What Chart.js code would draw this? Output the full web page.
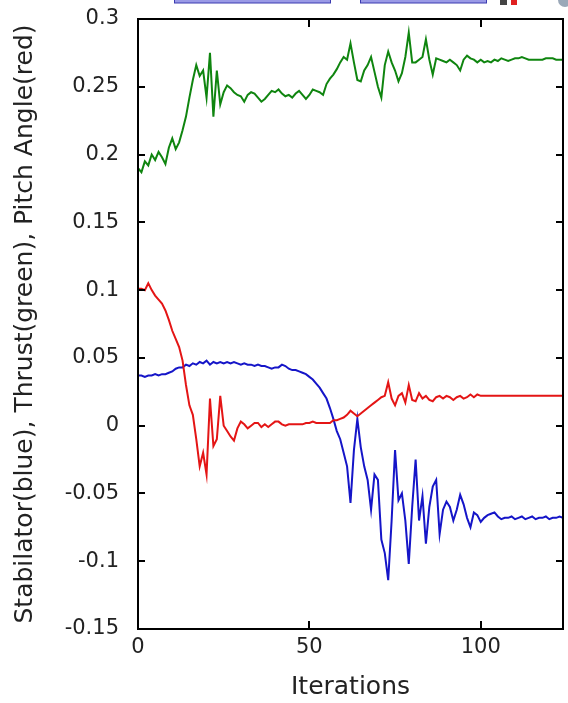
<!DOCTYPE html>
<html>
<head>
<meta charset="utf-8">
<script src="https://cdn.jsdelivr.net/npm/chart.js@4"></script>
<style>
  html, body { margin: 0; padding: 0; background: #fff; }
  canvas { display: block; }
</style>
</head>
<body>
<canvas id="chartIterations" width="568" height="703"></canvas>
<script>
// x tick positions and y tick positions
const xTicks = [0, 50, 100];
const yTicks = [-0.15, -0.1, -0.05, 0, 0.05, 0.1, 0.15, 0.2, 0.25, 0.3];

// Thrust (green), one value per iteration 0..124
const thrust = [
    0.190, 0.187, 0.195, 0.192, 0.200, 0.196, 0.202, 0.198, 0.193, 0.205,
    0.212, 0.204, 0.209, 0.218, 0.228, 0.242, 0.255, 0.266, 0.258, 0.262,
    0.242, 0.275, 0.228, 0.262, 0.237, 0.246, 0.251, 0.249, 0.246, 0.244,
    0.243, 0.239, 0.244, 0.246, 0.245, 0.242, 0.239, 0.241, 0.244, 0.247,
    0.246, 0.248, 0.245, 0.243, 0.244, 0.242, 0.245, 0.247, 0.244, 0.241,
    0.244, 0.248, 0.247, 0.246, 0.244, 0.252, 0.256, 0.259, 0.263, 0.268,
    0.272, 0.270, 0.282, 0.268, 0.255, 0.254, 0.262, 0.266, 0.272, 0.261,
    0.250, 0.242, 0.266, 0.276, 0.268, 0.262, 0.254, 0.260, 0.272, 0.290,
    0.268, 0.268, 0.270, 0.272, 0.285, 0.270, 0.259, 0.271, 0.270, 0.269,
    0.268, 0.270, 0.268, 0.266, 0.262, 0.270, 0.273, 0.271, 0.270, 0.268,
    0.270, 0.268, 0.269, 0.268, 0.270, 0.269, 0.271, 0.270, 0.269, 0.270,
    0.271, 0.271, 0.272, 0.271, 0.270, 0.270, 0.270, 0.270, 0.270, 0.271,
    0.271, 0.271, 0.270, 0.270, 0.270
];

// Pitch angle (red)
const pitchAngle = [
    0.101, 0.101, 0.100, 0.105, 0.100, 0.096, 0.093, 0.090, 0.085, 0.078,
    0.070, 0.064, 0.058, 0.048, 0.030, 0.015, 0.008, -0.010, -0.030, -0.020,
    -0.036, 0.020, -0.015, -0.010, 0.022, 0.000, -0.004, -0.008, -0.011, -0.002,
    0.003, 0.001, -0.002, 0.000, 0.002, 0.002, -0.001, 0.001, -0.001, 0.001,
    0.003, 0.003, 0.001, 0.000, 0.001, 0.001, 0.001, 0.001, 0.001, 0.002,
    0.002, 0.003, 0.002, 0.002, 0.002, 0.002, 0.002, 0.004, 0.004, 0.005,
    0.006, 0.008, 0.011, 0.009, 0.007, 0.009, 0.011, 0.013, 0.015, 0.017,
    0.019, 0.021, 0.022, 0.032, 0.020, 0.015, 0.022, 0.024, 0.017, 0.030,
    0.019, 0.018, 0.024, 0.020, 0.022, 0.019, 0.018, 0.021, 0.022, 0.020,
    0.022, 0.021, 0.019, 0.021, 0.022, 0.020, 0.021, 0.023, 0.021, 0.023,
    0.022, 0.022, 0.022, 0.022, 0.022, 0.022, 0.022, 0.022, 0.022, 0.022,
    0.022, 0.022, 0.022, 0.022, 0.022, 0.022, 0.022, 0.022, 0.022, 0.022,
    0.022, 0.022, 0.022, 0.022, 0.022
];

// Stabilator (blue)
const stabilator = [
    0.037, 0.037, 0.036, 0.037, 0.037, 0.038, 0.037, 0.038, 0.038, 0.039,
    0.040, 0.042, 0.043, 0.043, 0.045, 0.044, 0.046, 0.045, 0.047, 0.046,
    0.048, 0.045, 0.047, 0.046, 0.047, 0.046, 0.047, 0.046, 0.047, 0.046,
    0.045, 0.046, 0.045, 0.045, 0.044, 0.045, 0.044, 0.044, 0.043, 0.042,
    0.043, 0.043, 0.045, 0.044, 0.042, 0.041, 0.041, 0.040, 0.039, 0.038,
    0.036, 0.034, 0.031, 0.028, 0.024, 0.020, 0.013, 0.005, -0.004, -0.010,
    -0.020, -0.030, -0.057, -0.018, 0.005, -0.016, -0.030, -0.040, -0.062, -0.036,
    -0.040, -0.084, -0.094, -0.114, -0.070, -0.018, -0.055, -0.050, -0.070, -0.102,
    -0.060, -0.025, -0.070, -0.052, -0.087, -0.060, -0.045, -0.040, -0.080, -0.062,
    -0.056, -0.060, -0.070, -0.062, -0.051, -0.058, -0.068, -0.075, -0.064, -0.066,
    -0.071, -0.068, -0.066, -0.065, -0.064, -0.067, -0.069, -0.068, -0.068, -0.067,
    -0.069, -0.068, -0.067, -0.069, -0.068, -0.067, -0.069, -0.068, -0.068, -0.067,
    -0.069, -0.068, -0.068, -0.067, -0.068
];

const toPoints = values => values.map((v, i) => ({ x: i, y: v }));

// frame box with inward tick marks on all four sides
const frameTicks = {
    id: 'frameTicks',
    afterDatasetsDraw(chart) {
        const { ctx, chartArea: a, scales: { x, y } } = chart;
        ctx.save();
        ctx.strokeStyle = '#000';
        ctx.lineWidth = 2;
        ctx.strokeRect(a.left, a.top, a.right - a.left, a.bottom - a.top);
        ctx.beginPath();
        xTicks.forEach(v => {
            const px = Math.round(x.getPixelForValue(v));
            ctx.moveTo(px, a.bottom); ctx.lineTo(px, a.bottom - 8);
            ctx.moveTo(px, a.top); ctx.lineTo(px, a.top + 8);
        });
        yTicks.forEach(v => {
            const py = Math.round(y.getPixelForValue(v));
            ctx.moveTo(a.left, py); ctx.lineTo(a.left + 7, py);
            ctx.moveTo(a.right, py); ctx.lineTo(a.right - 7, py);
        });
        ctx.stroke();
        ctx.restore();
    }
};

// cropped bits of toolbar along the top edge of the screenshot
const topStrip = {
    id: 'topStrip',
    beforeDraw(chart) {
        const ctx = chart.ctx;
        ctx.save();
        ctx.fillStyle = '#9a9ae6';
        ctx.strokeStyle = '#3a3ab0';
        ctx.lineWidth = 1;
        ctx.fillRect(174, 0, 157, 3);
        ctx.strokeRect(174.5, -1, 156, 4);
        ctx.fillRect(360, 0, 127, 3);
        ctx.strokeRect(360.5, -1, 126, 4);
        ctx.fillStyle = '#444';
        ctx.fillRect(500, 0, 7, 5);
        ctx.fillStyle = '#e02020';
        ctx.fillRect(511, 0, 6, 5);
        ctx.fillStyle = '#9aa8b8';
        ctx.beginPath();
        ctx.arc(565, 0, 7, 0, Math.PI);
        ctx.fill();
        ctx.restore();
    }
};

const tickFont = { family: 'DejaVu Sans', size: 21 };
const titleFont = { family: 'DejaVu Sans', size: 25 };

new Chart(document.getElementById('chartIterations'), {
    type: 'line',
    data: {
        datasets: [{
            label: 'Thrust',
            data: toPoints(thrust),
            borderColor: '#0f850f',
            borderWidth: 2,
            pointRadius: 0,
            tension: 0
        },
        {
            label: 'Pitch Angle',
            data: toPoints(pitchAngle),
            borderColor: '#e41515',
            borderWidth: 2,
            pointRadius: 0,
            tension: 0
        },
        {
            label: 'Stabilator',
            data: toPoints(stabilator),
            borderColor: '#1515c8',
            borderWidth: 2,
            pointRadius: 0,
            tension: 0
        }]
    },
    options: {
        responsive: false,
        animation: false,
        layout: {
            padding: { top: 19, right: 5, left: 0, bottom: 0 }
        },
        plugins: {
            legend: { display: false },
            tooltip: { enabled: false }
        },
        scales: {
            x: {
                type: 'linear',
                min: 0,
                max: 124,
                afterBuildTicks: s => { s.ticks = xTicks.map(v => ({ value: v })); },
                afterFit: s => {
                    s.height = 74;
                    s.paddingLeft = 0;
                    s.paddingRight = 0;
                },
                ticks: {
                    font: tickFont,
                    color: '#222',
                    padding: 6
                },
                grid: { display: false, drawTicks: false },
                border: { display: false },
                title: {
                    display: true,
                    text: 'Iterations',
                    font: titleFont,
                    color: '#222',
                    padding: { top: 0, bottom: 1 }
                }
            },
            y: {
                type: 'linear',
                min: -0.15,
                max: 0.3,
                afterBuildTicks: s => { s.ticks = yTicks.map(v => ({ value: v })); },
                afterFit: s => {
                    s.width = 138;
                    s.paddingTop = 0;
                    s.paddingBottom = 0;
                },
                ticks: {
                    font: tickFont,
                    color: '#222',
                    padding: 19,
                    callback: v => String(v)
                },
                grid: { display: false, drawTicks: false },
                border: { display: false },
                title: {
                    display: true,
                    text: 'Stabilator(blue), Thrust(green), Pitch Angle(red)',
                    font: titleFont,
                    color: '#222',
                    padding: { top: 10, bottom: 0 }
                }
            }
        }
    },
    plugins: [topStrip, frameTicks]
});
</script>
</body>
</html>
